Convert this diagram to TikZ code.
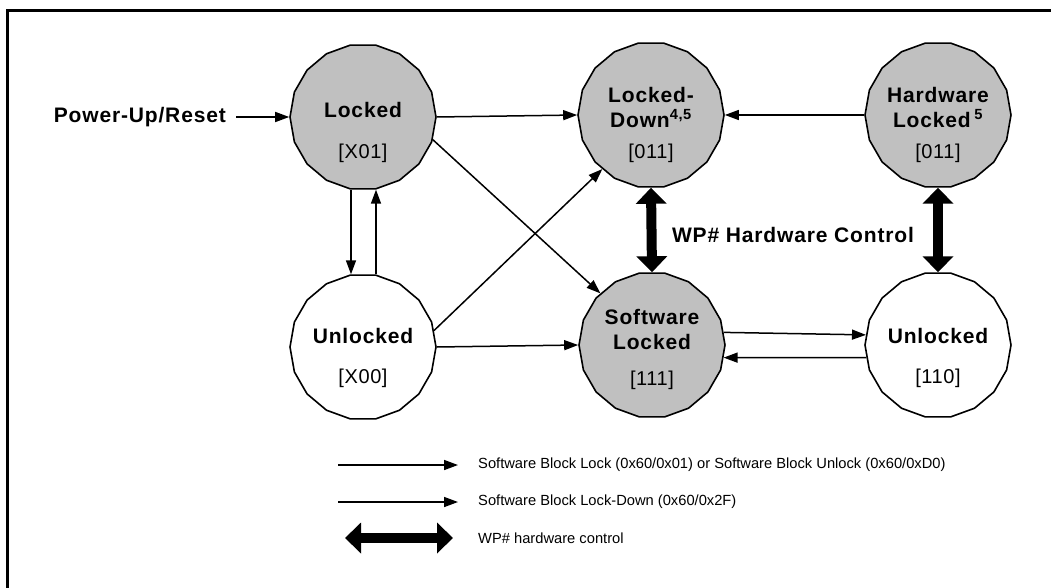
\documentclass[tikz,border=0pt]{standalone}
\usepackage{fontspec}
\setmainfont{Liberation Sans}
\usetikzlibrary{shapes.geometric,arrows.meta}

\definecolor{stategray}{RGB}{192,192,192}

\tikzset{
  state/.style={draw,regular polygon,regular polygon sides=18,
    minimum size=146pt,inner sep=0pt,line width=1.6pt},
  locked/.style={state,fill=stategray},
  unlocked/.style={state,fill=white},
  title/.style={font=\fontsize{21}{25}\selectfont\bfseries\addfontfeatures{LetterSpace=4},
    align=center,inner sep=0pt},
  code/.style={font=\fontsize{20}{22}\selectfont\addfontfeatures{LetterSpace=3},inner sep=0pt},
  legendtext/.style={font=\fontsize{14.7}{16}\selectfont,anchor=west,inner sep=0pt},
  trans/.style={-{Triangle[length=14pt,width=10pt]},line width=1.5pt},
  wp/.style={{Triangle[length=16pt,width=30pt]}-{Triangle[length=16pt,width=30pt]},
    line width=10pt}
}

\begin{document}
\begin{tikzpicture}[x=1pt,y=-1pt]
  \useasboundingbox (0,0) rectangle (1051,588);
  % frame
  \draw[line width=3pt] (7,588) -- (7,11) -- (1051,11);

  % states
  \node[locked]   (locked)    at (363,117) {};
  \node[unlocked] (unlockedL) at (363,347) {};
  \node[locked]   (lockdown)  at (651,115) {};
  \node[locked]   (hwlocked)  at (938,115) {};
  \node[locked]   (swlocked)  at (652,345) {};
  \node[unlocked] (unlockedR) at (938,345) {};

  \node[title] at ([yshift=7pt]locked.center)     {Locked};
  \node[code]  at ([yshift=-36pt]locked.center)   {[X01]};
  \node[title] at ([yshift=11pt]unlockedL.center)  {Unlocked};
  \node[code]  at ([yshift=-31pt]unlockedL.center) {[X00]};
  \node[title] at ([yshift=8pt]lockdown.center)   {Locked-\\Down\textsuperscript{4,5}};
  \node[code]  at ([yshift=-38pt]lockdown.center) {[011]};
  \node[title] at ([yshift=8pt]hwlocked.center)   {Hardware\\Locked\,\textsuperscript{5}};
  \node[code]  at ([yshift=-38pt]hwlocked.center) {[011]};
  \node[title] at ([yshift=16pt]swlocked.center)  {Software\\Locked};
  \node[code]  at ([yshift=-35pt]swlocked.center) {[111]};
  \node[title] at ([yshift=9pt]unlockedR.center)  {Unlocked};
  \node[code]  at ([yshift=-33pt]unlockedR.center) {[110]};

  \node[title,anchor=east,inner sep=0pt] (power) at (226,117) {Power-Up/Reset};
  \node[title] (wplabel) at (793,235) {WP\# Hardware Control};

  % transitions
  \draw[trans] ([xshift=10pt]power.east) -- (locked.west);
  \draw[trans] (locked.east) -- (lockdown.west);
  \draw[trans] (locked.-18) -- (swlocked.135);
  \draw[trans] ([xshift=-12pt]locked.south) -- ([xshift=-12pt]unlockedL.north);
  \draw[trans] ([xshift=13pt]unlockedL.north) -- ([xshift=13pt]locked.south);
  \draw[trans] (unlockedL.13) -- (lockdown.-132);
  \draw[trans] (unlockedL.east) -- (swlocked.west);
  \draw[trans] (swlocked.10) -- (unlockedR.172);
  \draw[trans] (unlockedR.190) -- (swlocked.-10);
  \draw[trans] (hwlocked.west) -- (lockdown.east);
  \draw[wp] (lockdown.south) -- (swlocked.north);
  \draw[wp] (hwlocked.south) -- (unlockedR.north);

  % legend
  \coordinate (keyA1) at (338,465);
  \coordinate (keyA2) at (458,465);
  \coordinate (keyB1) at (338,502);
  \coordinate (keyB2) at (458,502);
  \coordinate (keyC1) at (345,538);
  \coordinate (keyC2) at (453,538);
  \draw[trans] (keyA1) -- (keyA2);
  \draw[trans] (keyB1) -- (keyB2);
  \draw[wp] (keyC1) -- (keyC2);
  \node[legendtext] (legendA) at (478,465)
    {Software Block Lock (0x60/0x01) or Software Block Unlock (0x60/0xD0)};
  \node[legendtext] (legendB) at (478,502) {Software Block Lock-Down (0x60/0x2F)};
  \node[legendtext] (legendC) at (478,538) {WP\# hardware control};
\end{tikzpicture}
\end{document}
